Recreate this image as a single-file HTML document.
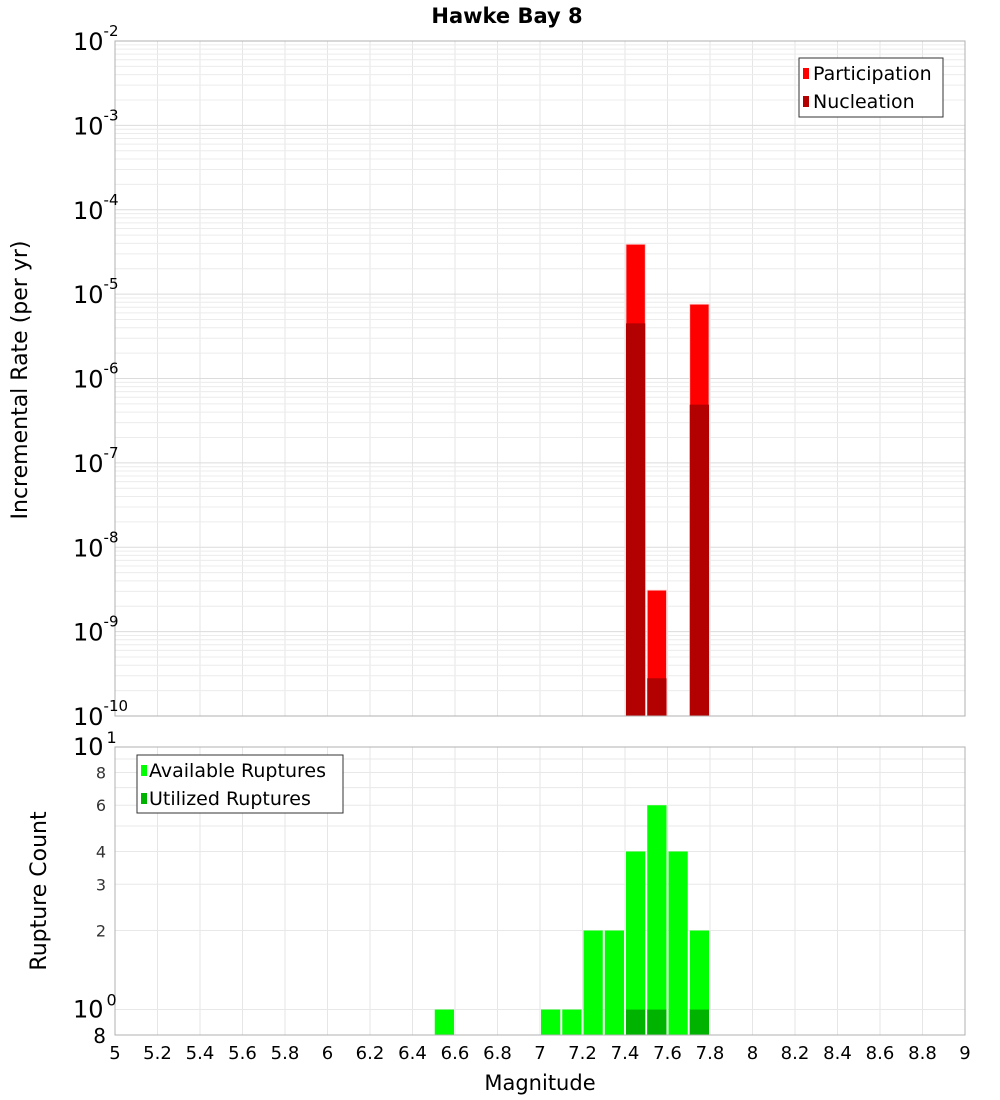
<!DOCTYPE html>
<html><head><meta charset="utf-8"><style>
html,body{margin:0;padding:0;background:#fff;}
svg{display:block;font-family:"DejaVu Sans","Liberation Sans",sans-serif;}
</style></head><body>
<svg id="chart" width="1000" height="1100" xmlns="http://www.w3.org/2000/svg">
<text x="507" y="23" text-anchor="middle" font-size="21" font-weight="bold">Hawke Bay 8</text>
<g id="topG"></g>
<g id="botG"></g>
<text transform="translate(27,380) rotate(-90)" text-anchor="middle" font-size="22">Incremental Rate (per yr)</text>
<text transform="translate(46,891) rotate(-90)" text-anchor="middle" font-size="22">Rupture Count</text>
<text x="540" y="1090" text-anchor="middle" font-size="21">Magnitude</text>
<g id="legends">
<g>
<rect x="799" y="58" width="144" height="59" fill="#fff" stroke="#333" stroke-width="1"/>
<rect x="803" y="68" width="6" height="11" fill="#ff0000"/>
<text x="813" y="80" font-size="19">Participation</text>
<rect x="803" y="96" width="6" height="11" fill="#b30000"/>
<text x="813" y="108" font-size="19">Nucleation</text>
</g>
<g>
<rect x="137" y="755" width="206" height="58" fill="#fff" stroke="#333" stroke-width="1"/>
<rect x="141" y="765" width="6" height="11" fill="#00ff00"/>
<text x="149" y="777" font-size="19">Available Ruptures</text>
<rect x="141" y="793" width="6" height="11" fill="#00b300"/>
<text x="149" y="805" font-size="19">Utilized Ruptures</text>
</g>
</g>
</svg>
<script>
const mags = [6.55, 7.05, 7.15, 7.25, 7.35, 7.45, 7.55, 7.65, 7.75];
const availableCounts = [1, 1, 1, 2, 2, 4, 6, 4, 2];
const utilizedCounts = [0, 0, 0, 0, 0, 1, 1, 0, 1];
const rateMags = [7.45, 7.55, 7.75];
const participationRates = [3.9e-5, 3.1e-9, 7.6e-6];
const nucleationRates = [4.5e-6, 2.8e-10, 4.9e-7];
const xTicks = [5,5.2,5.4,5.6,5.8,6,6.2,6.4,6.6,6.8,7,7.2,7.4,7.6,7.8,8,8.2,8.4,8.6,8.8,9];
const rateExps = [-2,-3,-4,-5,-6,-7,-8,-9,-10];
const countTicks = [8, 6, 4, 3, 2];

const NS = "http://www.w3.org/2000/svg";
const X0 = 115, X1 = 965, XMIN = 5, XMAX = 9;
const xs = m => X0 + (m - XMIN) / (XMAX - XMIN) * (X1 - X0);
const T0 = 41, T1 = 716;
const yTop = v => T0 + (-2 - Math.log10(v)) / 8 * (T1 - T0);
const B0 = 747, B1 = 1035, BLO = Math.log10(0.8);
const yBot = v => B1 - (Math.log10(v) - BLO) / (1 - BLO) * (B1 - B0);
function mk(parent, tag, attrs, txt) {
  const e = document.createElementNS(NS, tag);
  for (const k in attrs) e.setAttribute(k, attrs[k]);
  if (txt !== undefined) e.textContent = txt;
  parent.appendChild(e);
  return e;
}
const topG = document.getElementById('topG'), botG = document.getElementById('botG');
const svgEl = document.getElementById('chart');
for (const t of xTicks) {
  mk(topG, 'line', {x1: xs(t), x2: xs(t), y1: T0, y2: T1, stroke: '#e6e6e6'});
  mk(botG, 'line', {x1: xs(t), x2: xs(t), y1: B0, y2: B1, stroke: '#e6e6e6'});
}
for (let e = -10; e < -2; e++) for (let k = 1; k <= 9; k++) {
  const yy = yTop(k * Math.pow(10, e));
  mk(topG, 'line', {x1: X0, x2: X1, y1: yy, y2: yy, stroke: k === 1 ? '#dcdcdc' : '#ececec'});
}
for (const v of [1, 2, 3, 4, 5, 6, 7, 8, 9]) {
  const yy = yBot(v);
  mk(botG, 'line', {x1: X0, x2: X1, y1: yy, y2: yy, stroke: '#e8e8e8'});
}
const bw = 0.1 * (X1 - X0) / (XMAX - XMIN);
rateMags.forEach((m, i) => {
  let r = mk(topG, 'rect', {x: xs(m) - bw / 2 + 1, y: yTop(participationRates[i]), width: bw - 2, height: T1 - yTop(participationRates[i]), fill: '#ff0000', stroke: '#ffd0d0', 'stroke-width': 0.8});
  
  
  r = mk(topG, 'rect', {x: xs(m) - bw / 2 + 1, y: yTop(nucleationRates[i]), width: bw - 2, height: T1 - yTop(nucleationRates[i]), fill: '#b30000'});
  
  
});
mags.forEach((m, i) => {
  let r = mk(botG, 'rect', {x: xs(m) - bw / 2 + 1, y: yBot(availableCounts[i]), width: bw - 2, height: B1 - yBot(availableCounts[i]), fill: '#00ff00'});
  
  
  if (utilizedCounts[i] > 0) {
    r = mk(botG, 'rect', {x: xs(m) - bw / 2 + 1, y: yBot(utilizedCounts[i]), width: bw - 2, height: B1 - yBot(utilizedCounts[i]), fill: '#00b300'});
    
    
  }
});
mk(topG, 'rect', {x: X0, y: T0, width: X1 - X0, height: T1 - T0, fill: 'none', stroke: '#b0b0b0'});
mk(botG, 'rect', {x: X0, y: B0, width: X1 - X0, height: B1 - B0, fill: 'none', stroke: '#b0b0b0'});
for (const e of rateExps) {
  const yy = yTop(Math.pow(10, e));
  const t = mk(topG, 'text', {x: 73, y: yy + 9, 'font-size': 24}, '10');
  
  
  mk(t, 'tspan', {dy: -14, 'font-size': 15}, String(e));
}
let tt = mk(botG, 'text', {x: 73, y: yBot(10) + 8, 'font-size': 24}, '10');
mk(tt, 'tspan', {dy: -12, dx: 3, 'font-size': 16}, '1');
tt = mk(botG, 'text', {x: 73, y: yBot(1) + 8, 'font-size': 24}, '10');
mk(tt, 'tspan', {dy: -12, dx: 3, 'font-size': 16}, '0');
for (const v of countTicks) {
  const l = mk(botG, 'text', {x: 106, y: yBot(v) + 6, 'font-size': 16, 'text-anchor': 'end', fill: '#333'}, String(v));
  
  
}
mk(botG, 'text', {x: 106, y: yBot(0.8) + 8, 'font-size': 20, 'text-anchor': 'end'}, '8');
for (const v of xTicks) {
  const l = mk(svgEl, 'text', {x: xs(v), y: 1059, 'font-size': 18, 'text-anchor': 'middle'}, String(v));
  
  
}
</script>
</body></html>
